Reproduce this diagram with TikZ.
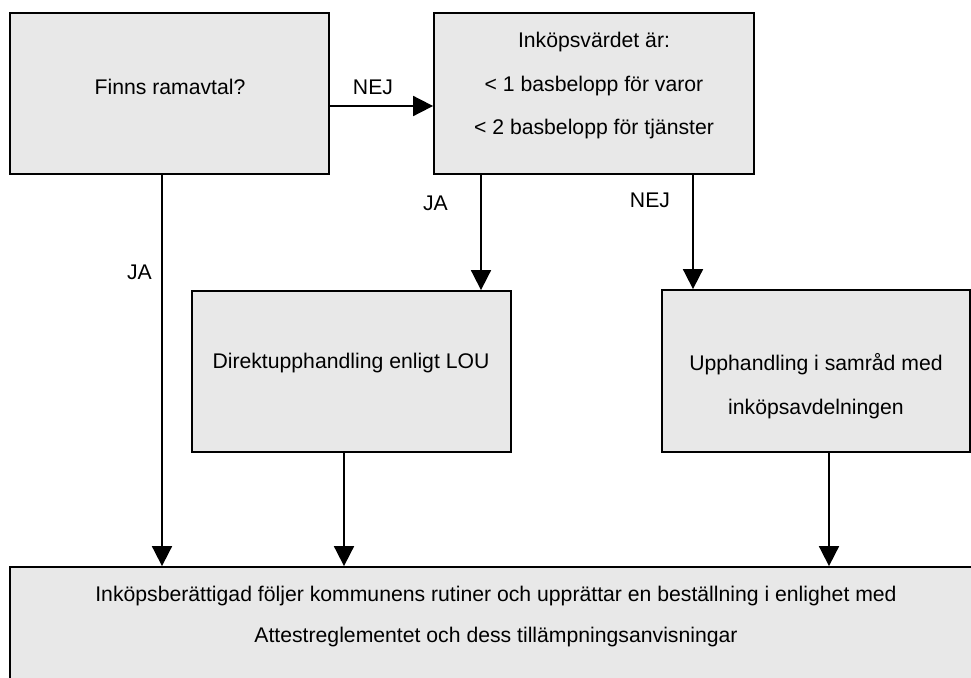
\documentclass[tikz,border=0pt]{standalone}
\usepackage{fontspec}
\setmainfont{Liberation Sans}
\usetikzlibrary{arrows.meta,positioning}

\definecolor{boxgray}{RGB}{232,232,232}

\begin{document}
\begin{tikzpicture}[x=1pt, y=-1pt, >=Stealth,
    box/.style={draw=black, line width=1.8pt, fill=boxgray, inner sep=0pt},
    txt/.style={font=\fontsize{21.2}{43.5}\selectfont, align=center, inner sep=0pt},
    flow/.style={-{Triangle[length=20pt,width=20pt]}, line width=1.8pt}]

    \useasboundingbox (0,0) rectangle (971,677);
    \clip (0,0) rectangle (971,677);

    % --- Top row: framework question and purchase value ---
    \node[box, minimum width=319pt, minimum height=161pt] (ramavtal) at (169.5,93.5) {};
    \node[txt] (ramavtalText) at (170,87) {Finns ramavtal?};

    \node[box, minimum width=320pt, minimum height=161pt] (varde) at (594,93.5) {};
    \node[txt] (vardeText) at (594,86) {Inköpsvärdet är:\\< 1 basbelopp för varor\\< 2 basbelopp för tjänster};

    % --- Middle row: the two procurement routes ---
    \node[box, minimum width=319pt, minimum height=161pt] (direkt) at (351.5,371.5) {};
    \node[txt] (direktText) at (351,363) {Direktupphandling enligt LOU};

    \node[box, minimum width=308pt, minimum height=162pt] (samrad) at (816,371) {};
    \node[txt] (samradText) at (816,386) {Upphandling i samråd med\\inköpsavdelningen};

    % --- Bottom: common outcome (runs off the page) ---
    \node[box, minimum width=972pt, minimum height=163pt] (slutsteg) at (496,648.5) {};
    \node[txt, font=\fontsize{21.2}{41}\selectfont] (slutstegText) at (496,617) {Inköpsberättigad följer kommunens rutiner och upprättar en beställning i enlighet med\\Attestreglementet och dess tillämpningsanvisningar};

    % --- Connectors ---
    \draw[flow] ([yshift=-12.5pt]ramavtal.east) -- ([yshift=-12.5pt]varde.west);

    \coordinate (jaStart) at ([xshift=-7.5pt]ramavtal.south);
    \draw[flow] (jaStart) -- (jaStart |- slutsteg.north);

    \coordinate (direktIn) at ([xshift=-113pt]varde.south);
    \draw[flow] (direktIn) -- (direktIn |- direkt.north);
    \coordinate (samradIn) at ([xshift=99pt]varde.south);
    \draw[flow] (samradIn) -- (samradIn |- samrad.north);

    \coordinate (direktOut) at ([xshift=-7.5pt]direkt.south);
    \draw[flow] (direktOut) -- (direktOut |- slutsteg.north);
    \coordinate (samradOut) at ([xshift=13pt]samrad.south);
    \draw[flow] (samradOut) -- (samradOut |- slutsteg.north);

    % --- Branch labels ---
    \node[txt] (nejTop) at (373,87) {NEJ};
    \node[txt] (jaLeft) at (139.5,272.5) {JA};
    \node[txt] (jaMid) at (435.5,203) {JA};
    \node[txt] (nejRight) at (650,200.5) {NEJ};

\end{tikzpicture}
\end{document}
